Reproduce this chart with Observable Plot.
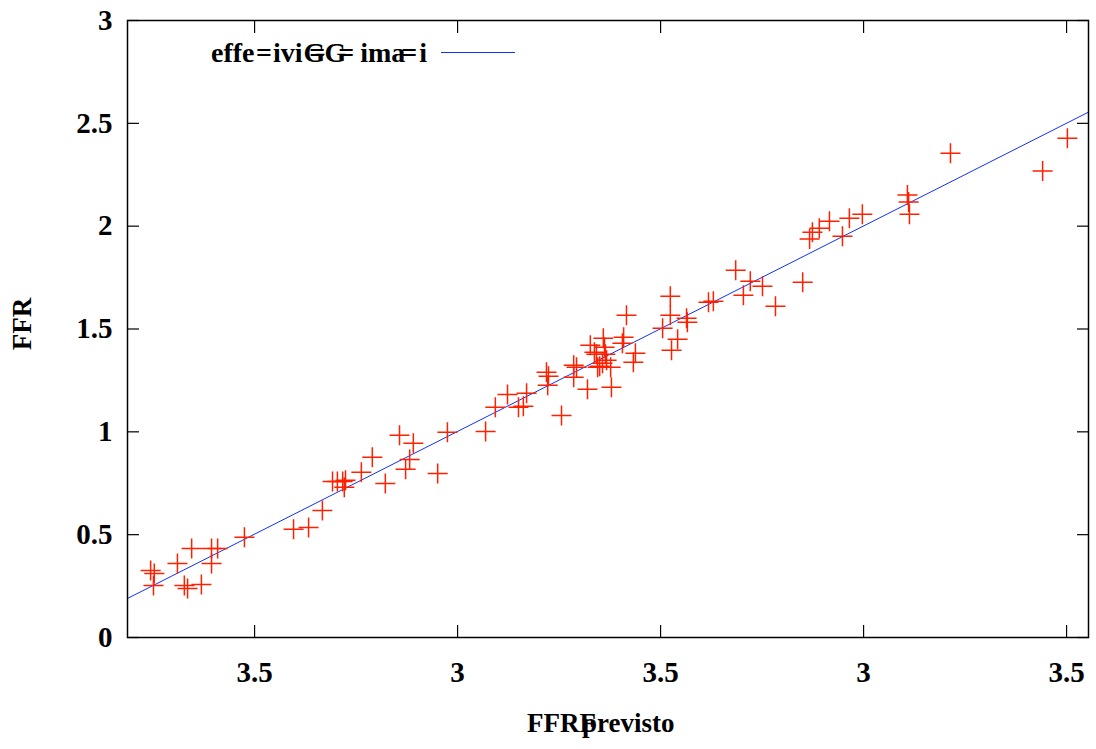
<!DOCTYPE html>
<html>
<head>
<meta charset="utf-8">
<script src="https://cdn.jsdelivr.net/npm/d3@7"></script>
<script src="https://cdn.jsdelivr.net/npm/@observablehq/plot@0.6"></script>
<style>
  body { margin: 0; background: #fff; }
  #wrap { position: relative; width: 1096px; height: 749px; }
</style>
</head>
<body>
<div id="wrap"></div>
<script>
// ---- data ----
const xTicks = [0.5, 1, 1.5, 2, 2.5];
const xTickLabels = ["3.5", "3", "3.5", "3", "3.5"];
const yTicks = [0, 0.5, 1, 1.5, 2, 2.5, 3];
const yTickLabels = ["0", "0.5", "1", "1.5", "2", "2.5", "3"];
const xDomain = [0.187, 2.554];
const yDomain = [0, 3];

const ffrPrevisto = [
  0.244, 0.253, 0.251, 0.310, 0.345, 0.327, 0.335, 0.369, 0.394, 0.409,
  0.394, 0.475, 0.596, 0.633, 0.667, 0.692, 0.704, 0.717, 0.721, 0.724,
  0.763, 0.790, 0.822, 0.857, 0.891, 0.882, 0.872, 0.951, 0.975, 1.069,
  1.093, 1.123, 1.150, 1.162, 1.170, 1.256, 1.219, 1.224, 1.222, 1.286,
  1.293, 1.286, 1.320, 1.327, 1.337, 1.342, 1.345, 1.350, 1.357, 1.359,
  1.362, 1.364, 1.367, 1.377, 1.379, 1.409, 1.406, 1.416, 1.438, 1.433,
  1.505, 1.524, 1.524, 1.527, 1.542, 1.564, 1.566, 1.618, 1.630, 1.685,
  1.704, 1.721, 1.751, 1.783, 1.850, 1.867, 1.874, 1.891, 1.916, 1.948,
  1.965, 1.997, 2.108, 2.111, 2.113, 2.214, 2.441, 2.502
];
const ffr = [
  0.326, 0.311, 0.253, 0.360, 0.433, 0.253, 0.238, 0.258, 0.433, 0.433,
  0.360, 0.487, 0.526, 0.535, 0.618, 0.759, 0.759, 0.759, 0.730, 0.764,
  0.803, 0.876, 0.749, 0.983, 0.944, 0.866, 0.818, 0.798, 0.998, 1.002,
  1.119, 1.182, 1.119, 1.124, 1.187, 1.080, 1.290, 1.270, 1.226, 1.324,
  1.314, 1.265, 1.207, 1.421, 1.387, 1.377, 1.314, 1.319, 1.333, 1.455,
  1.411, 1.377, 1.348, 1.314, 1.217, 1.460, 1.431, 1.567, 1.382, 1.338,
  1.504, 1.659, 1.567, 1.397, 1.450, 1.552, 1.533, 1.630, 1.635, 1.786,
  1.664, 1.732, 1.708, 1.611, 1.727, 1.937, 1.971, 1.990, 2.024, 1.951,
  2.039, 2.058, 2.151, 2.117, 2.058, 2.355, 2.268, 2.428
];
const fitIntercept = 0.003;
const fitSlope = 0.999;
const legendPieces = ["effe", "=", "ivi", "G", "=", "G", "=", "ima", "=", "i"];
const xTitlePieces = ["FFRF", "previsto"];
const yTitle = "FFR";

// ---- build ----
const points = ffrPrevisto.map((x, i) => ({x, y: ffr[i]}));
const fitLine = xDomain.map(x => ({x, y: fitIntercept + fitSlope * x}));

const cross = {
  draw(ctx, size) {
    const r = Math.sqrt(size / Math.PI);
    ctx.moveTo(-r, 0); ctx.lineTo(r, 0);
    ctx.moveTo(0, -r); ctx.lineTo(0, r);
  }
};

const font = {fontFamily: "Liberation Serif", fontWeight: "bold", fontSize: 27};
const tickFont = {fontFamily: "Liberation Serif", fontWeight: "bold", fontSize: 29};

const chart = Plot.plot({
  width: 1096,
  height: 749,
  marginLeft: 127,
  marginRight: 8,
  marginTop: 20,
  marginBottom: 112,
  style: {fontFamily: "Liberation Serif", fontWeight: "bold", fontSize: "27px", background: "#fff", color: "#000"},
  x: {domain: xDomain, label: null},
  y: {domain: yDomain, label: null},
  marks: [
    // inward ticks on all four sides
    Plot.axisX(xTicks, {anchor: "bottom", tickSize: -12, tickFormat: () => "", label: null, strokeWidth: 1.2}),
    Plot.axisX(xTicks, {anchor: "top", tickSize: -12, tickFormat: () => "", label: null, strokeWidth: 1.2}),
    Plot.axisY(yTicks, {anchor: "left", tickSize: -12, tickFormat: () => "", label: null, strokeWidth: 1.2}),
    Plot.axisY(yTicks, {anchor: "right", tickSize: -12, tickFormat: () => "", label: null, strokeWidth: 1.2}),
    // tick labels
    Plot.axisX(xTicks, {anchor: "bottom", tickSize: 0, tickPadding: 24, label: null,
      tickFormat: d => xTickLabels[xTicks.indexOf(d)], ...tickFont}),
    Plot.axisY(yTicks, {anchor: "left", tickSize: 0, tickPadding: 15, label: null,
      tickFormat: d => yTickLabels[yTicks.indexOf(d)], ...tickFont}),
    Plot.line(fitLine, {x: "x", y: "y", stroke: "#1030ff", strokeWidth: 1}),
    Plot.dot(points, {x: "x", y: "y", symbol: cross, r: 10, fill: "none", stroke: "#ff2000", strokeWidth: 1.5}),
    Plot.frame({stroke: "#000", strokeWidth: 1.5}),
    Plot.text([yTitle], {frameAnchor: "left", text: d => d, rotate: -90, textAnchor: "middle", lineAnchor: "middle", dx: -105, dy: -5, ...font})
  ]
});

document.getElementById("wrap").appendChild(chart);

// overstruck texts of the original (key label and x title), each as one text element
const svg = d3.select(chart);
const fontAttrs = sel => sel
  .attr("font-family", "Liberation Serif")
  .attr("font-weight", "bold")
  .attr("text-anchor", "start")
  .attr("fill", "#000");

// x-axis title
const xt = svg.append("text").attr("x", 527).attr("y", 732).attr("font-size", 27).call(fontAttrs);
const xtDx = [0, -14];
xTitlePieces.forEach((t, i) => xt.append("tspan").attr("dx", xtDx[i]).text(t));

// key (legend) label + sample line
const lg = svg.append("text").attr("x", 211).attr("y", 62).attr("font-size", 28).call(fontAttrs);
const lgDx = [0, 1.5, 1, 1, -16, -0.8, -8, 6, -4, 2];
legendPieces.forEach((t, i) => lg.append("tspan").attr("dx", lgDx[i]).text(t));
svg.append("line")
  .attr("x1", 441).attr("x2", 515).attr("y1", 52.5).attr("y2", 52.5)
  .attr("stroke", "#1030ff").attr("stroke-width", 1);
</script>
</body>
</html>
